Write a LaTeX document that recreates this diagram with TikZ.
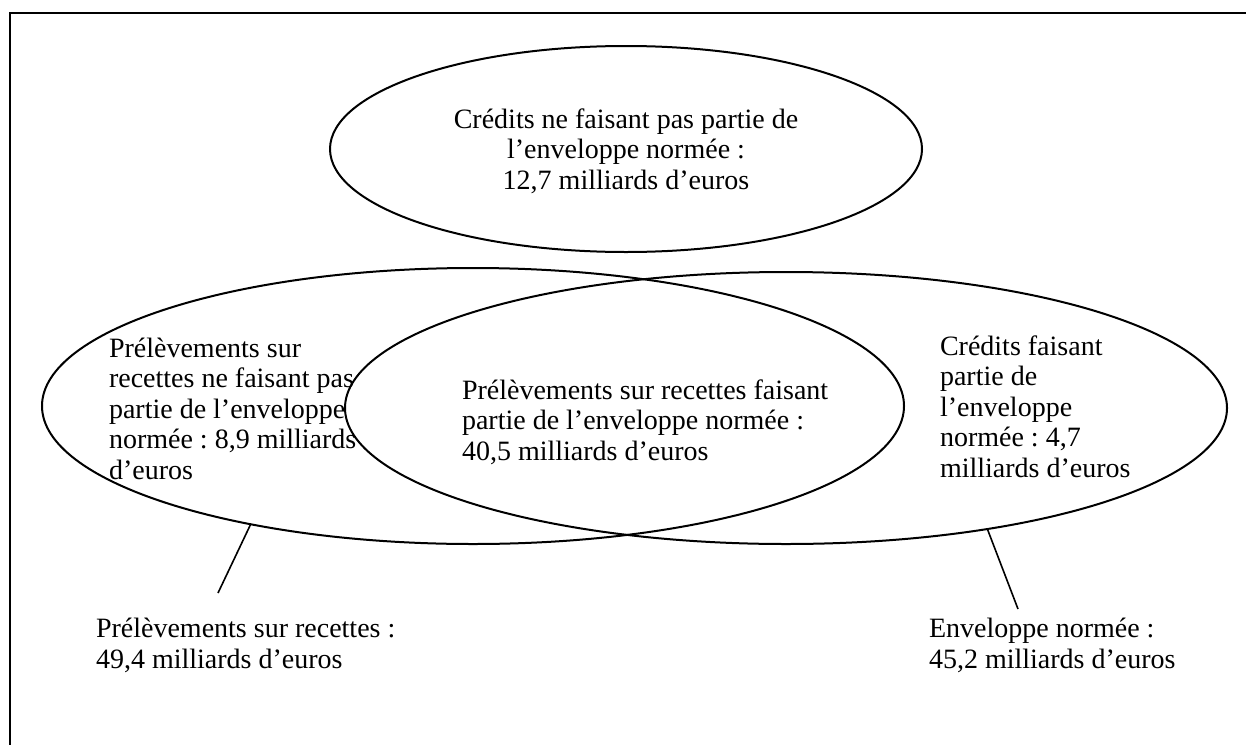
\documentclass[tikz,border=0pt]{standalone}
\usepackage{fontspec}
\setmainfont{Liberation Serif}
\usetikzlibrary{shapes.geometric}
\frenchspacing
\begin{document}
\begin{tikzpicture}[x=1pt,y=-1pt,
  frame/.style={draw=black,line width=2pt},
  setell/.style={draw=black,line width=2pt,shape=ellipse,inner sep=0pt,outer sep=0pt},
  lbl/.style={inner sep=0pt,outer sep=0pt,font=\fontsize{28}{30.5}\selectfont},
  link/.style={draw=black,line width=1.6pt}]
\useasboundingbox (0,0) rectangle (1246,744);
\fill[white] (0,0) rectangle (1246,744);
\draw[frame] (10,13) rectangle (1260,760);
% ellipses
\node[setell,minimum width=592pt,minimum height=206pt] (eTop) at (626,149) {};
\node[setell,minimum width=862pt,minimum height=276pt] (eLeft) at (473,406) {};
\node[setell,minimum width=882pt,minimum height=272pt] (eRight) at (786,408) {};
% texts (anchor = baseline of the last line)
\node[lbl,anchor=base,align=center] (tTop) at (626,189)
  {Crédits ne faisant pas partie de\\l’enveloppe normée :\\12,7 milliards d’euros};
\node[lbl,anchor=base west,align=left] (tLeft) at (109,479)
  {Prélèvements sur\\recettes ne faisant pas\\partie de l’enveloppe\\normée : 8,9 milliards\\d’euros};
\node[lbl,anchor=base west,align=left] (tMid) at (462,460)
  {Prélèvements sur recettes faisant\\partie de l’enveloppe normée :\\40,5 milliards d’euros};
\node[lbl,anchor=base west,align=left] (tRight) at (940,477)
  {Crédits faisant\\partie de\\l’enveloppe\\normée : 4,7\\milliards d’euros};
\node[lbl,anchor=base west,align=left] (tPSR) at (96,668)
  {Prélèvements sur recettes :\\49,4 milliards d’euros};
\node[lbl,anchor=base west,align=left] (tEnv) at (929,668)
  {Enveloppe normée :\\45,2 milliards d’euros};
% connectors
\coordinate (cPSR) at (218,593);
\coordinate (cEnv) at (1018,609);
\draw[link] (eLeft.208.1) -- (cPSR);
\draw[link] (eRight.329.1) -- (cEnv);
\end{tikzpicture}
\end{document}
